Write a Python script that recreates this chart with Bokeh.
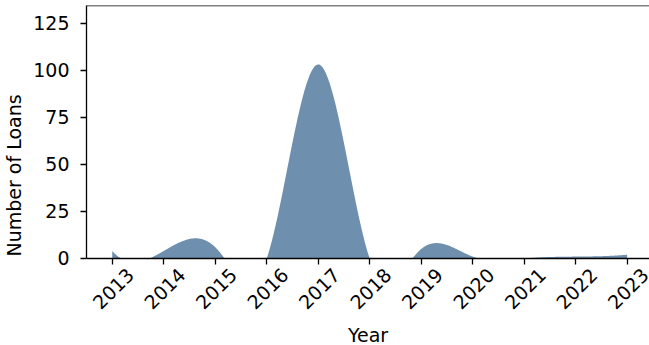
import numpy as np
from math import pi
from bokeh.plotting import figure
from bokeh.models import ColumnDataSource, Range1d, FixedTicker, Span
from bokeh.core.properties import value
from bokeh.embed import file_html
from bokeh.resources import INLINE

# ---- data ----
years = [2013, 2014, 2015, 2016, 2017, 2018, 2019, 2020, 2021, 2022, 2023]
loans = [4, 4, 6, 0, 103, 0, 5, 1, 0, 1, 2]
year_labels = [str(y) for y in years]
y_ticks = [0, 25, 50, 75, 100, 125]

FILL = "#6E8FAE"
FONT = "DejaVu Sans"
FS = "19px"


def smooth_curve(x, y, xs):
    """Cubic spline (not-a-knot) through the yearly counts, as in the original."""
    x = np.asarray(x, float)
    y = np.asarray(y, float)
    n = len(x)
    h = np.diff(x)
    A = np.zeros((n, n))
    b = np.zeros(n)
    for i in range(1, n - 1):
        A[i, i - 1] = h[i - 1]
        A[i, i] = 2 * (h[i - 1] + h[i])
        A[i, i + 1] = h[i]
        b[i] = 6 * ((y[i + 1] - y[i]) / h[i] - (y[i] - y[i - 1]) / h[i - 1])
    A[0, 0], A[0, 1], A[0, 2] = h[1], -(h[0] + h[1]), h[0]
    A[-1, -3], A[-1, -2], A[-1, -1] = h[-1], -(h[-1] + h[-2]), h[-2]
    M = np.linalg.solve(A, b)
    idx = np.clip(np.searchsorted(x, xs) - 1, 0, n - 2)
    x0, x1 = x[idx], x[idx + 1]
    hh = x1 - x0
    t0, t1 = x1 - xs, xs - x0
    return ((M[idx] * t0 ** 3 + M[idx + 1] * t1 ** 3) / (6 * hh)
            + (y[idx] / hh - M[idx] * hh / 6) * t0
            + (y[idx + 1] / hh - M[idx + 1] * hh / 6) * t1)


xs = np.linspace(years[0], years[-1], 800)
ys = np.clip(smooth_curve(years, loans, xs), 0, None)
area_src = ColumnDataSource(dict(x=xs, y1=np.zeros_like(xs), y2=ys))

# frame runs from the top spine to the bottom of the canvas so that the
# rotated year labels (drawn below y=0) stay inside the drawing area
y_top = 134.3
y_bottom = -46.2
p = figure(width=649, height=345,
           x_range=Range1d(2012.5, 2023.435), y_range=Range1d(y_bottom, y_top),
           output_backend="svg", toolbar_location=None,
           min_border_left=84, min_border_right=0, min_border_top=5, min_border_bottom=0)
p.outline_line_color = None
p.grid.visible = False
p.background_fill_color = "white"
p.border_fill_color = "white"

p.varea(x="x", y1="y1", y2="y2", source=area_src, fill_color=FILL, fill_alpha=1.0)

# top spine
p.add_layout(Span(location=y_top, dimension="width", line_color="black", line_width=1.3))

# y axis (line only from 0 to top)
ya = p.yaxis[0]
ya.bounds = (0, y_top)
ya.ticker = FixedTicker(ticks=y_ticks)
ya.axis_label = "Number of Loans"
ya.axis_label_text_font = FONT
ya.axis_label_text_font_style = "normal"
ya.axis_label_text_font_size = FS
ya.axis_label_text_color = "black"
ya.axis_label_standoff = 5
ya.major_label_text_font = FONT
ya.major_label_text_font_size = FS
ya.major_label_text_color = "black"
ya.major_label_standoff = 11
ya.major_tick_out = 6
ya.major_tick_in = 0
ya.minor_tick_line_color = None
ya.axis_line_width = 1.3
ya.major_tick_line_width = 1.3
ya.axis_line_color = "black"
ya.major_tick_line_color = "black"

# x axis pinned at y = 0
xa = p.xaxis[0]
xa.fixed_location = 0
xa.ticker = FixedTicker(ticks=years)
xa.axis_label = "Year"
xa.axis_label_text_font = FONT
xa.axis_label_text_font_style = "normal"
xa.axis_label_text_font_size = FS
xa.axis_label_text_color = "black"
xa.axis_label_standoff = 50
xa.major_label_overrides = {y: " " for y in years}
xa.major_label_text_font_size = "1px"
xa.major_tick_out = 6
xa.major_tick_in = 0
xa.minor_tick_line_color = None
xa.axis_line_width = 1.3
xa.major_tick_line_width = 1.3
xa.axis_line_color = "black"
xa.major_tick_line_color = "black"

# rotated, centred year labels under the ticks
lab_src = ColumnDataSource(dict(x=years, y=[0] * len(years), text=year_labels))
p.text(x="x", y="y", text="text", source=lab_src, angle=pi / 4,
       x_offset=1, y_offset=30, text_align="center", text_baseline="middle",
       text_font=value(FONT), text_font_size=value(FS), text_color="black")

open("out.html", "w").write(file_html(p, INLINE))
